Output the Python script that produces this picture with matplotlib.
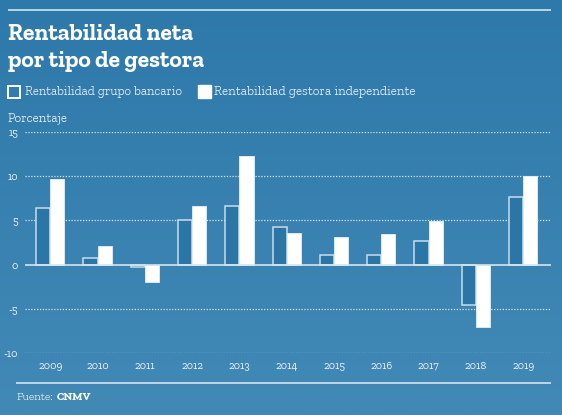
import numpy as np
import matplotlib
matplotlib.use("Agg")
import matplotlib.pyplot as plt
from matplotlib.patches import Rectangle
from matplotlib.colors import LinearSegmentedColormap
from matplotlib import font_manager

years = ["2009", "2010", "2011", "2012", "2013", "2014", "2015", "2016", "2017", "2018", "2019"]
bancario = [6.4, 0.75, -0.3, 5.1, 6.6, 4.3, 1.05, 1.05, 2.7, -4.6, 7.7]
independiente = [9.7, 2.1, -2.0, 6.65, 12.3, 3.6, 3.1, 3.5, 4.9, -7.1, 10.0]
yticks = [-10, -5, 0, 5, 10, 15]

names = sorted({f.name for f in font_manager.fontManager.ttflist})

def pick(preds):
    for p in preds:
        for n in names:
            if p(n.lower()):
                return n
    return None

main = pick([lambda n: n == "roboto slab",
             lambda n: "roboto" in n and "slab" in n,
             lambda n: n == "zilla slab",
             lambda n: n == "bitter",
             lambda n: n == "arvo",
             lambda n: n == "noto serif"])
slab = [main, "DejaVu Serif"] if main else ["DejaVu Serif"]

W, H = 562, 415
fig = plt.figure(figsize=(W / 100, H / 100), dpi=100)

bg = fig.add_axes([0, 0, 1, 1], zorder=-10)
cmap = LinearSegmentedColormap.from_list("bg", ["#2d79aa", "#4289b6"])
grad = np.linspace(0, 1, 256).reshape(-1, 1)
bg.imshow(grad, aspect="auto", cmap=cmap, extent=[0, 1, 0, 1], origin="upper")
bg.set_xlim(0, 1); bg.set_ylim(0, 1)
bg.axis("off")

def fx(px):
    return px / W

def fy(py):
    return 1 - py / H

light = "#eef4f8"
line_c = "#c9dcea"

bg.plot([fx(8), fx(551)], [fy(10), fy(10)], color=line_c, lw=1.3, solid_capstyle="butt")
bg.plot([fx(16), fx(551)], [fy(383), fy(383)], color=line_c, lw=1.3, solid_capstyle="butt")

def fit(t, target):
    fig.canvas.draw()
    w = t.get_window_extent().width
    t.set_fontsize(t.get_fontsize() * target / w)

t1 = fig.text(fx(8), fy(40), "Rentabilidad neta", color="white",
              fontsize=16, fontweight=800, family=slab, va="baseline", ha="left")
t2 = fig.text(fx(8), fy(67), "por tipo de gestora", color="white",
              fontsize=16, fontweight=800, family=slab, va="baseline", ha="left")
fit(t1, 185)
t2.set_fontsize(t1.get_fontsize())

fig.patches.append(Rectangle((fx(8), fy(98)), 12 / W, 12 / H, transform=fig.transFigure,
                             facecolor="none", edgecolor="white", lw=1.4))
l1 = fig.text(fx(25), fy(92), "Rentabilidad grupo bancario", color=light, fontsize=8.5,
              fontweight="light", family=slab, va="center", ha="left")
fig.patches.append(Rectangle((fx(198), fy(98)), 13 / W, 13 / H, transform=fig.transFigure,
                             facecolor="white", edgecolor="white", lw=1))
l2 = fig.text(fx(214), fy(92), "Rentabilidad gestora independiente", color=light, fontsize=8.5,
              fontweight="light", family=slab, va="center", ha="left")
fit(l1, 158)
fit(l2, 201)

pc = fig.text(fx(8), fy(118), "Porcentaje", color=light, fontsize=8.5,
              fontweight="light", family=slab, va="center", ha="left")
fit(pc, 60)

left_px, right_px = 25, 551
top_px, bot_px = 132, 353
ax = fig.add_axes([fx(left_px), fy(bot_px), (right_px - left_px) / W, (bot_px - top_px) / H])
ax.patch.set_alpha(0)
x = np.arange(len(years))
bw = 0.3
ax.bar(x - bw / 2, bancario, width=bw, color="#2a76a7", edgecolor=line_c, lw=1.1, zorder=3)
ax.bar(x + bw / 2, independiente, width=bw, color="white", edgecolor="#e6eff6", lw=0.6, zorder=3)

ax.set_ylim(-10, 15)
ax.set_xlim(-0.535, 10.59)
for t in yticks:
    if t != 0:
        ax.axhline(t, color="#d6e5ef", lw=0.9, ls=(0, (1, 1.3)), zorder=1)
ax.axhline(0, color="#d6e5ef", lw=1.2, zorder=4)

ax.set_yticks(yticks)
ax.set_yticklabels([str(t) for t in yticks])
ax.set_xticks(x)
ax.set_xticklabels(years)
ax.tick_params(length=0, colors=light, labelsize=8, pad=6)
ax.tick_params(axis="y", pad=5)
for lab in ax.get_xticklabels() + ax.get_yticklabels():
    lab.set_family(slab)
    lab.set_fontweight("normal")
for s in ax.spines.values():
    s.set_visible(False)

src = fig.text(fx(16), fy(397), "Fuente:", color=light, fontsize=8,
               fontweight="light", family=slab, va="center", ha="left")
fit(src, 37)
fig.canvas.draw()
ext = src.get_window_extent()
fig.text(ext.x1 / W + 4 / W, fy(397), "CNMV", color="white", fontsize=src.get_fontsize(),
         family=slab, fontweight="bold", va="center", ha="left")

fig.savefig("out.png", dpi=100)
